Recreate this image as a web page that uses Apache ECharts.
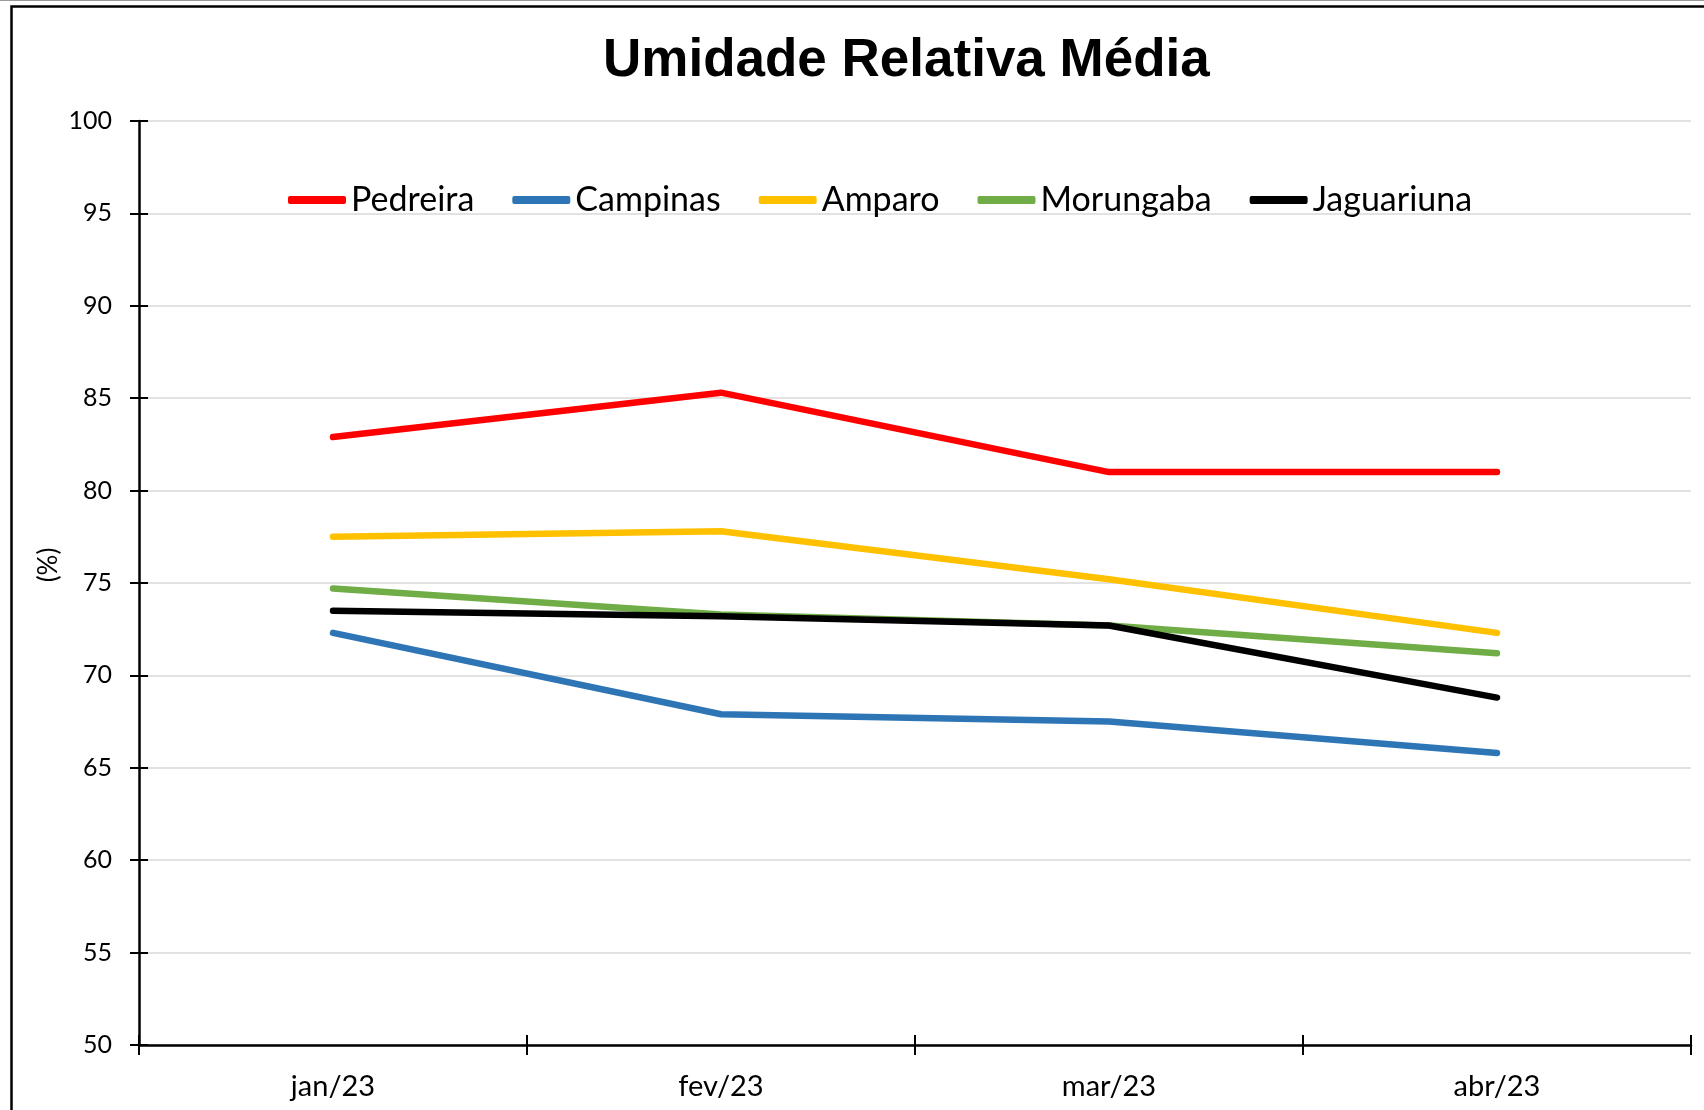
<!DOCTYPE html>
<html>
<head>
<meta charset="utf-8">
<script src="https://cdn.jsdelivr.net/npm/echarts@6/dist/echarts.min.js"></script>
<style>
  html, body { margin: 0; padding: 0; background: #fff; }
  #chart { width: 1704px; height: 1110px; }
</style>
</head>
<body>
<div id="chart"></div>
<script>
const months = ['jan/23', 'fev/23', 'mar/23', 'abr/23'];
const pedreira   = [82.9, 85.3, 81.0, 81.0];
const campinas   = [72.3, 67.9, 67.5, 65.8];
const amparo     = [77.5, 77.8, 75.2, 72.3];
const morungaba  = [74.7, 73.3, 72.7, 71.2];
const jaguariuna = [73.5, 73.2, 72.7, 68.8];
const seriesNames = ['Pedreira', 'Campinas', 'Amparo', 'Morungaba', 'Jaguariuna'];
const seriesColors = ['#FF0000', '#2E75B6', '#FFC000', '#70AD47', '#000000'];
const seriesData = [pedreira, campinas, amparo, morungaba, jaguariuna];

const FONT = 'Lato, "Noto Sans", sans-serif';

const chart = echarts.init(document.getElementById('chart'), null, { renderer: 'canvas' });

const option = {
  backgroundColor: '#ffffff',
  animation: false,
  title: {
    text: 'Umidade Relativa Média',
    left: 598,
    top: 30,
    textStyle: { fontFamily: '"Liberation Sans", Arial, sans-serif', fontWeight: 'bold', fontSize: 53, color: '#000' }
  },
  legend: {
    data: seriesNames,
    left: 283,
    top: 175,
    itemWidth: 58,
    itemHeight: 8,
    itemGap: 38,
    icon: 'roundRect',
    textStyle: { fontFamily: FONT, fontSize: 34, color: '#000', lineHeight: 40 }
  },
  grid: { left: 139, top: 121, right: 13, bottom: 65, containLabel: false },
  xAxis: [
    {
      type: 'category',
      data: months,
      boundaryGap: true,
      axisLine: { show: true, lineStyle: { color: '#000', width: 2.5 } },
      axisTick: { show: true, inside: false, length: 10, lineStyle: { color: '#000', width: 2 } },
      axisLabel: { margin: 27, fontFamily: FONT, fontSize: 29, color: '#000' },
      splitLine: { show: false }
    },
    {
      type: 'category',
      data: months,
      position: 'bottom',
      boundaryGap: true,
      axisLine: { show: false },
      axisTick: { show: true, inside: true, length: 10, lineStyle: { color: '#000', width: 2 } },
      axisLabel: { show: false },
      splitLine: { show: false }
    }
  ],
  yAxis: [
    {
      type: 'value',
      min: 50,
      max: 100,
      interval: 5,
      axisLine: { show: true, lineStyle: { color: '#000', width: 2.5 } },
      axisTick: { show: true, inside: false, length: 9, lineStyle: { color: '#000', width: 2 } },
      axisLabel: { margin: 27, fontFamily: FONT, fontSize: 25, color: '#000' },
      splitLine: { show: true, lineStyle: { color: '#d9d9d9', width: 1.5 } }
    },
    {
      type: 'value',
      min: 50,
      max: 100,
      interval: 5,
      position: 'left',
      axisLine: { show: false },
      axisTick: { show: true, inside: true, length: 9, lineStyle: { color: '#000', width: 2 } },
      axisLabel: { show: false },
      splitLine: { show: false }
    }
  ],
  series: seriesNames.map((name, i) => ({
    name: name,
    type: 'line',
    data: seriesData[i],
    xAxisIndex: 0,
    yAxisIndex: 0,
    showSymbol: false,
    symbol: 'none',
    color: seriesColors[i],
    lineStyle: { color: seriesColors[i], width: 6.5, cap: 'round', join: 'round' },
    z: 2 + i
  })),
  graphic: [
    {
      type: 'rect',
      silent: true,
      shape: { x: 0, y: 0, width: 1704, height: 1 },
      style: { fill: '#9a9a9a' },
      z: 100
    },
    {
      type: 'rect',
      silent: true,
      shape: { x: 11.5, y: 6.5, width: 1800, height: 1200 },
      style: { fill: null, stroke: '#000', lineWidth: 2.5 },
      z: 100
    },
    {
      type: 'text',
      silent: true,
      x: 49,
      y: 565,
      rotation: Math.PI / 2,
      style: {
        text: '(%)',
        fontFamily: FONT,
        fontSize: 26,
        fill: '#000',
        align: 'center',
        verticalAlign: 'middle'
      }
    }
  ]
};

chart.setOption(option);
</script>
</body>
</html>
